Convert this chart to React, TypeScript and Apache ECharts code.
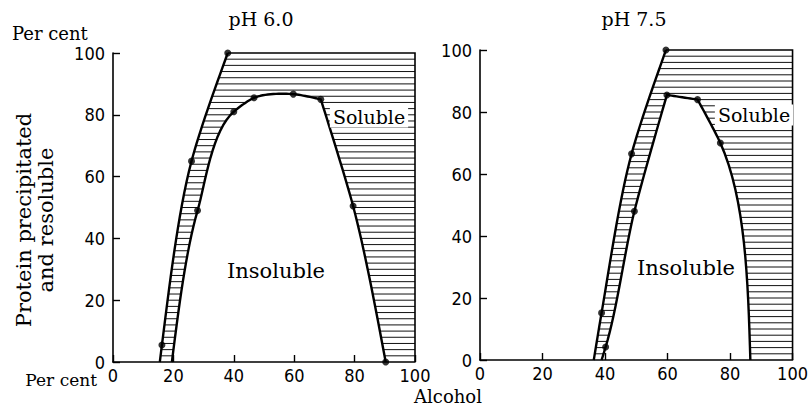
import React, { useEffect, useRef } from "react";
import * as echarts from "echarts";

// ---- data ----
const alcoholTicks = [0, 20, 40, 60, 80, 100];
const percentTicks = [0, 20, 40, 60, 80, 100];
const axisMax = 100;

// pH 6.0 : left boundary (precipitation) and resolution curve
const ph60PrecipX = [15.5, 16.2, 26, 38];
const ph60PrecipY = [0, 5.5, 65, 100];
const ph60PrecipDot = [0, 1, 1, 1];
const ph60ResolX = [19.5, 28, 40, 46.7, 59.7, 68.8, 79.5, 90.3];
const ph60ResolY = [0, 49, 81, 85.5, 86.7, 85, 50.5, 0];
const ph60ResolDot = [0, 1, 1, 1, 1, 1, 1, 1];

// pH 7.5
const ph75PrecipX = [36.4, 38.9, 48.5, 59.5];
const ph75PrecipY = [0, 15.2, 66.5, 100];
const ph75PrecipDot = [0, 1, 1, 1];
const ph75ResolX = [38.9, 40.2, 49.4, 59.8, 69.6, 76.9, 86.5];
const ph75ResolY = [0, 4.2, 48, 85.5, 84, 70, 0];
const ph75ResolDot = [0, 1, 1, 1, 1, 1, 0];

const hatchStep = 2;

// drawing config: indices where the hand-drawn curve has a sharp bend
const ph60ResolCorners = [5];
const ph75ResolCorners = [3, 4];

const SERIF = "'DejaVu Serif', 'Liberation Serif', serif";
const NARROW = "'Liberation Sans Narrow', 'DejaVu Sans Condensed', sans-serif";

type P = number[];

function smoothCurve(pts: P[], corners: number[], k = 0.85, steps = 16): P[] {
  const n = pts.length;
  if (n < 3) return pts;
  const dist = (a: P, b: P) => Math.hypot(b[0] - a[0], b[1] - a[1]) || 1e-6;
  const tan: (P | null)[] = pts.map((p, i) => {
    if (i === 0 || i === n - 1) return null;
    if (corners.includes(i)) return [0, 0];
    const p0 = pts[i - 1];
    const p2 = pts[i + 1];
    const d01 = dist(p0, p);
    const d12 = dist(p, p2);
    const w0 = d12 / (d01 + d12);
    const w1 = d01 / (d01 + d12);
    return [
      ((p[0] - p0[0]) / d01) * w0 + ((p2[0] - p[0]) / d12) * w1,
      ((p[1] - p0[1]) / d01) * w0 + ((p2[1] - p[1]) / d12) * w1,
    ];
  });
  const out: P[] = [pts[0]];
  for (let i = 0; i < n - 1; i++) {
    const p1 = pts[i];
    const p2 = pts[i + 1];
    const L = dist(p1, p2);
    const chord = [p2[0] - p1[0], p2[1] - p1[1]];
    let m1: P | null = tan[i] ? [tan[i]![0] * L * k, tan[i]![1] * L * k] : null;
    let m2: P | null = tan[i + 1] ? [tan[i + 1]![0] * L * k, tan[i + 1]![1] * L * k] : null;
    if (!m1 && !m2) {
      m1 = chord;
      m2 = chord;
    } else if (!m1) {
      m1 = [(3 * chord[0] - m2![0]) / 2, (3 * chord[1] - m2![1]) / 2];
    } else if (!m2) {
      m2 = [(3 * chord[0] - m1[0]) / 2, (3 * chord[1] - m1[1]) / 2];
    }
    for (let s = 1; s <= steps; s++) {
      const u = s / steps;
      const u2 = u * u;
      const u3 = u2 * u;
      const h00 = 2 * u3 - 3 * u2 + 1;
      const h10 = u3 - 2 * u2 + u;
      const h01 = -2 * u3 + 3 * u2;
      const h11 = u3 - u2;
      out.push([
        h00 * p1[0] + h10 * m1![0] + h01 * p2[0] + h11 * m2![0],
        h00 * p1[1] + h10 * m1![1] + h01 * p2[1] + h11 * m2![1],
      ]);
    }
  }
  return out;
}

function makeRenderItem(
  px: number[],
  py: number[],
  rx: number[],
  ry: number[],
  innerCorners: number[]
) {
  return (_params: any, api: any) => {
    const outer = smoothCurve(px.map((x, i) => api.coord([x, py[i]])), []);
    const inner = smoothCurve(rx.map((x, i) => api.coord([x, ry[i]])), innerCorners);
    const topRight = api.coord([axisMax, axisMax]);
    const botRight = api.coord([axisMax, 0]);
    const poly: P[] = [...outer, topRight, botRight, ...inner.slice().reverse()];
    const children: any[] = [];
    for (let hy = hatchStep; hy < axisMax; hy += hatchStep) {
      const yp = api.coord([0, hy])[1];
      const xs: number[] = [];
      for (let i = 0; i < poly.length; i++) {
        const a = poly[i];
        const b = poly[(i + 1) % poly.length];
        if ((a[1] <= yp && b[1] > yp) || (b[1] <= yp && a[1] > yp)) {
          xs.push(a[0] + ((yp - a[1]) / (b[1] - a[1])) * (b[0] - a[0]));
        }
      }
      xs.sort((m, q) => m - q);
      for (let j = 0; j + 1 < xs.length; j += 2) {
        children.push({
          type: "line",
          shape: { x1: xs[j], y1: yp, x2: xs[j + 1], y2: yp },
          style: { stroke: "#111", lineWidth: 1 },
        });
      }
    }
    children.push({
      type: "polyline",
      shape: { points: [outer[outer.length - 1], topRight, botRight] },
      style: { stroke: "#000", lineWidth: 1.6, fill: "none" },
    });
    children.push({
      type: "polyline",
      shape: { points: outer },
      style: { stroke: "#000", lineWidth: 2.4, fill: "none", lineJoin: "round" },
    });
    children.push({
      type: "polyline",
      shape: { points: inner },
      style: { stroke: "#000", lineWidth: 2.4, fill: "none", lineJoin: "round" },
    });
    return { type: "group", children };
  };
}

function dots(xs: number[], ys: number[], flags: number[]) {
  return xs.map((x, i) => [x, ys[i]]).filter((_, i) => flags[i]);
}

function axisPair(idx: number) {
  const common = {
    gridIndex: idx,
    type: "value" as const,
    min: 0,
    max: axisMax,
    interval: 20,
    splitLine: { show: false },
    axisLine: { show: true, lineStyle: { color: "#000", width: 1.6 } },
    axisTick: { show: true, inside: true, length: 7, lineStyle: { color: "#000", width: 1.4 } },
  };
  return {
    x: {
      ...common,
      axisLabel: {
        color: "#000",
        fontFamily: NARROW,
        fontSize: 18,
        margin: 4,
        showMinLabel: true,
        showMaxLabel: true,
        formatter: (v: number) => (alcoholTicks.includes(v) ? String(v) : ""),
      },
    },
    y: {
      ...common,
      axisLabel: {
        color: "#000",
        fontFamily: NARROW,
        fontSize: 18,
        margin: 8,
        formatter: (v: number) => (percentTicks.includes(v) ? String(v) : ""),
      },
    },
  };
}

export default function App() {
  const ref = useRef<HTMLDivElement>(null);
  useEffect(() => {
    if (!ref.current) return;
    const chart = echarts.init(ref.current, undefined, { renderer: "svg" });
    const a0 = axisPair(0);
    const a1 = axisPair(1);
    const txt = (x: number, y: number, text: string, size: number, extra: any = {}) => ({
      type: "text",
      x,
      y,
      z: 100,
      style: {
        text,
        fill: "#000",
        fontFamily: SERIF,
        fontSize: size,
        align: "center",
        verticalAlign: "middle",
        ...extra,
      },
    });
    chart.setOption({
      animation: false,
      backgroundColor: "#fff",
      grid: [
        { left: 113, top: 53, width: 302, height: 309 },
        { left: 480, top: 50, width: 316, height: 310 },
      ],
      xAxis: [a0.x, a1.x],
      yAxis: [a0.y, a1.y],
      series: [
        {
          type: "custom",
          xAxisIndex: 0,
          yAxisIndex: 0,
          data: [[0, 0]],
          silent: true,
          renderItem: makeRenderItem(ph60PrecipX, ph60PrecipY, ph60ResolX, ph60ResolY, ph60ResolCorners),
        },
        {
          type: "custom",
          xAxisIndex: 1,
          yAxisIndex: 1,
          data: [[0, 0]],
          silent: true,
          renderItem: makeRenderItem(ph75PrecipX, ph75PrecipY, ph75ResolX, ph75ResolY, ph75ResolCorners),
        },
        {
          type: "scatter",
          xAxisIndex: 0,
          yAxisIndex: 0,
          symbolSize: 7,
          itemStyle: { color: "#000" },
          z: 5,
          data: [...dots(ph60PrecipX, ph60PrecipY, ph60PrecipDot), ...dots(ph60ResolX, ph60ResolY, ph60ResolDot)],
        },
        {
          type: "scatter",
          xAxisIndex: 1,
          yAxisIndex: 1,
          symbolSize: 7,
          itemStyle: { color: "#000" },
          z: 5,
          data: [...dots(ph75PrecipX, ph75PrecipY, ph75PrecipDot), ...dots(ph75ResolX, ph75ResolY, ph75ResolDot)],
        },
      ],
      graphic: [
        txt(261, 19, "pH 6.0", 19),
        txt(634, 19, "pH 7.5", 19),
        txt(12, 33, "Per cent", 18, { align: "left" }),
        txt(97, 380, "Per cent", 17, { align: "right" }),
        txt(448, 396, "Alcohol", 18),
        txt(276, 271, "Insoluble", 21),
        txt(686, 268, "Insoluble", 21),
        txt(369, 117, "Soluble", 19, { backgroundColor: "#fff", padding: [1, 3] }),
        txt(754, 115, "Soluble", 19, { backgroundColor: "#fff", padding: [1, 3] }),
        {
          type: "text",
          x: 35,
          y: 220,
          rotation: Math.PI / 2,
          z: 100,
          style: {
            text: "Protein precipitated\nand resoluble",
            fill: "#000",
            fontFamily: SERIF,
            fontSize: 21,
            lineHeight: 22,
            align: "center",
            verticalAlign: "middle",
          },
        },
      ],
    });
    return () => chart.dispose();
  }, []);
  return (
    <div
      ref={ref}
      style={{ position: "fixed", left: 0, top: 0, width: 811, height: 406, background: "#fff" }}
    />
  );
}
